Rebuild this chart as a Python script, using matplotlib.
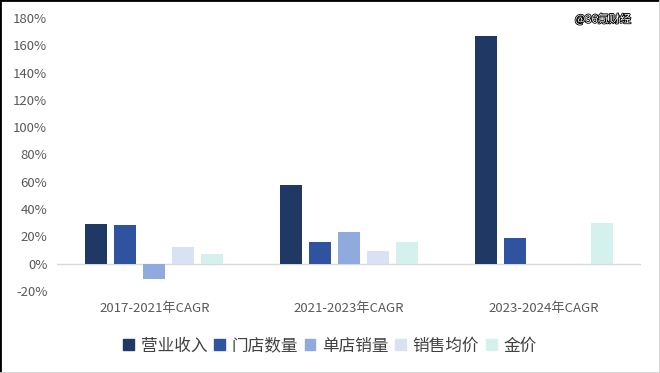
import numpy as np
import matplotlib.pyplot as plt
import matplotlib.patheffects as pe
from matplotlib.lines import Line2D

plt.rcParams['font.family'] = ['Noto Sans CJK SC', 'DejaVu Sans']

# data (%)
periods = ['2017-2021年CAGR', '2021-2023年CAGR', '2023-2024年CAGR']
series = ['营业收入', '门店数量', '单店销量', '销售均价', '金价']
revenue = [29, 58, 167]
stores = [28, 16, 19]
per_store = [-11, 23, np.nan]
avg_price = [12, 9, np.nan]
gold = [7, 16, 30]
colors = ['#203864', '#2F539F', '#8FAADC', '#D9E2F3', '#D4F1EE']

values = [revenue, stores, per_store, avg_price, gold]

fig = plt.figure(figsize=(6.6, 3.73), dpi=100)
ax = fig.add_axes([57/660, 1-291/373, (641-57)/660, (291-18)/373])

x = np.arange(len(periods))
slot = 0.149
w = 0.113
for i, (name, v) in enumerate(zip(series, values)):
    ax.bar(x + (i-2)*slot, v, width=w, color=colors[i], label=name, zorder=2)

ax.axhline(0, color='#D9D9D9', lw=1, zorder=1)
ax.set_xlim(-0.5, 2.5)
ax.set_ylim(-20, 180)
ax.set_yticks(range(-20, 181, 20))
ax.set_yticklabels([f'{t}%' for t in range(-20, 181, 20)])
ax.set_xticks(x)
ax.set_xticklabels(periods)
ax.tick_params(axis='y', length=0, pad=7, labelsize=9.5, labelcolor='#595959')
ax.tick_params(axis='x', length=0, pad=8, labelsize=9.5, labelcolor='#595959')
for s in ax.spines.values():
    s.set_visible(False)

handles = [plt.Rectangle((0, 0), 1, 1, color=c) for c in colors]
leg = fig.legend(handles, series, loc='center', bbox_to_anchor=(0.5, 1-346/373),
                 ncol=5, frameon=False, fontsize=12, handlelength=0.65,
                 handleheight=0.65, handletextpad=0.4, columnspacing=0.4)
for t in leg.get_texts():
    t.set_color('#404040')

fig.text(603/660, 1-19/373, '@36氪财经', ha='center', va='center', fontsize=8,
         color='white', path_effects=[pe.withStroke(linewidth=1.2, foreground='black')])

# frame of the screenshot
fig.add_artist(Line2D([0, 0], [0, 1], transform=fig.transFigure, color='black', lw=2))
fig.add_artist(Line2D([0, 1], [1, 1], transform=fig.transFigure, color='black', lw=2))
fig.add_artist(Line2D([1, 1], [0, 1], transform=fig.transFigure, color='#D0D0D0', lw=2))
fig.add_artist(Line2D([0, 1], [0, 0], transform=fig.transFigure, color='#D0D0D0', lw=2))

fig.savefig('out.png', dpi=100)
